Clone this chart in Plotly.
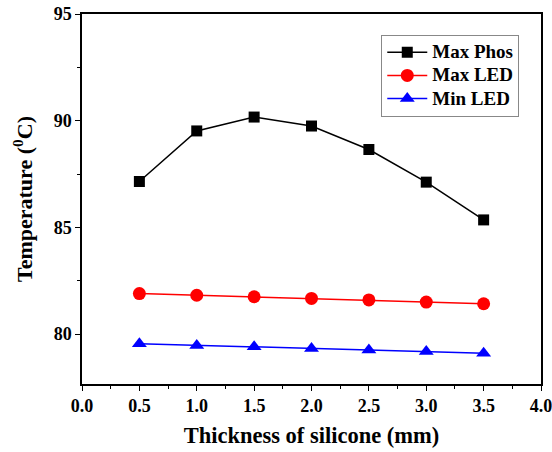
import plotly.graph_objects as go

thickness = [0.5, 1.0, 1.5, 2.0, 2.5, 3.0, 3.5]
max_phos = [87.15, 89.52, 90.17, 89.75, 88.65, 87.12, 85.35]
max_led = [81.9, 81.82, 81.75, 81.67, 81.6, 81.5, 81.42]
min_led = [79.55, 79.47, 79.4, 79.32, 79.25, 79.18, 79.1]
x_ticks = [0, 0.5, 1.0, 1.5, 2.0, 2.5, 3.0, 3.5, 4.0]
y_ticks = [80, 85, 90, 95]

font_family = "Liberation Serif"


def leg(name):
    return '<span style="font-size:19px"><b>%s</b></span>' % name


fig = go.Figure()
fig.add_trace(go.Scatter(x=thickness, y=max_phos, mode="lines+markers", name=leg("Max Phos"),
                         line=dict(color="black", width=1.5),
                         marker=dict(symbol="square", size=11, color="black")))
fig.add_trace(go.Scatter(x=thickness, y=max_led, mode="lines+markers", name=leg("Max LED"),
                         line=dict(color="red", width=1.5),
                         marker=dict(symbol="circle", size=13, color="red")))
fig.add_trace(go.Scatter(x=thickness, y=min_led, mode="lines+markers", name=leg("Min LED"),
                         line=dict(color="blue", width=1.5),
                         marker=dict(symbol="triangle-up", size=13, color="blue")))

fig.update_layout(
    width=552, height=452,
    margin=dict(l=82, r=11, t=14, b=68),
    plot_bgcolor="white", paper_bgcolor="white",
    font=dict(family=font_family, color="black"),
    legend=dict(x=0.652, y=0.944, xanchor="left", yanchor="top",
                bordercolor="#888888", borderwidth=1, bgcolor="white",
                font=dict(size=15.5, family=font_family), tracegroupgap=0,
                itemwidth=40),
    xaxis=dict(range=[0, 4.0], tickmode="array", automargin=False,
               tickvals=x_ticks,
               ticktext=["<b>%.1f</b>" % v for v in x_ticks],
               ticklabeloverflow="allow",
               ticks="outside", ticklen=5, tickwidth=1.2, tickcolor="black",
               minor=dict(dtick=0.25, ticks="outside", ticklen=3, tickcolor="black", tickwidth=1.2),
               showline=True, linecolor="black", linewidth=1.5, mirror=True,
               showgrid=False, zeroline=False,
               tickfont=dict(size=18, family=font_family),
               title=dict(text="<b>Thickness of silicone (mm)</b>", font=dict(size=22.5, family=font_family), standoff=12)),
    yaxis=dict(range=[77.66, 95], tickmode="array", automargin=False,
               tickvals=y_ticks,
               ticktext=["<b>%d</b>" % v for v in y_ticks],
               ticklabeloverflow="allow",
               ticks="outside", ticklen=5, tickwidth=1.2, tickcolor="black",
               minor=dict(tickvals=[77.5, 82.5, 87.5, 92.5], ticks="outside", ticklen=3, tickcolor="black", tickwidth=1.2),
               showline=True, linecolor="black", linewidth=1.5, mirror=True,
               showgrid=False, zeroline=False,
               tickfont=dict(size=18, family=font_family),
               title=dict(text="<b>Temperature (<sup>0</sup>C)</b>", font=dict(size=22, family=font_family), standoff=15)),
)

fig.write_html("out.html")
